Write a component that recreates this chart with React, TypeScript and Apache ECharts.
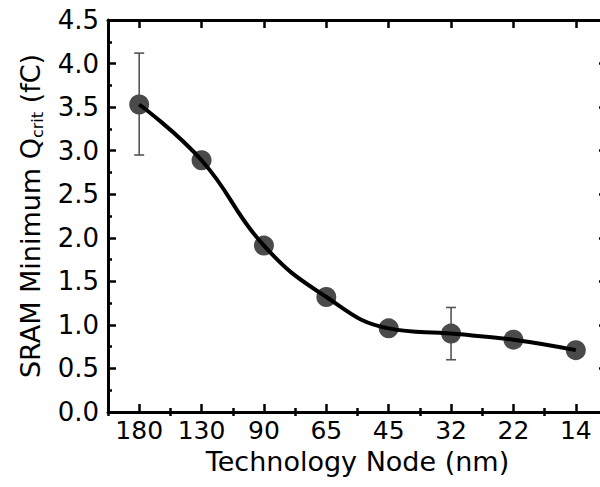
import React, { useEffect, useRef } from "react";
import * as echarts from "echarts";

const categories = ["180", "130", "90", "65", "45", "32", "22", "14"];
const qcrit = [3.53, 2.89, 1.91, 1.32, 0.96, 0.9, 0.83, 0.71];
const errCats = ["180", "32"];
const errLow = [2.95, 0.6];
const errHigh = [4.12, 1.2];
const yTicks = { min: 0, max: 4.5, interval: 0.5 };

const FONT = "DejaVu Sans";

export default function App() {
  const ref = useRef<HTMLDivElement>(null);
  useEffect(() => {
    if (!ref.current) return;
    const chart = echarts.init(ref.current, undefined, { renderer: "svg" });
    const errData = errCats.map((c, i) => [categories.indexOf(c), errLow[i], errHigh[i]]);
    const majorX = (pos: "bottom" | "top", labels: boolean) => ({
      type: "category",
      data: categories,
      position: pos,
      boundaryGap: true,
      axisLine: { show: true, onZero: false, lineStyle: { color: "#000", width: 3 } },
      axisTick: {
        show: true,
        inside: true,
        alignWithLabel: true,
        interval: 0,
        length: 8,
        lineStyle: { color: "#000", width: 2.5 },
      },
      axisLabel: {
        show: labels,
        interval: 0,
        hideOverlap: false,
        color: "#000",
        fontSize: 25,
        fontFamily: FONT,
        margin: 6,
      },
      splitLine: { show: false },
      ...(labels
        ? {
            name: "Technology Node (nm)",
            nameLocation: "middle",
            nameGap: 36,
            nameTextStyle: { color: "#000", fontSize: 27, fontFamily: FONT },
          }
        : {}),
    });
    const minorX = (pos: "bottom" | "top") => ({
      type: "category",
      data: categories,
      position: pos,
      boundaryGap: true,
      axisLine: { show: false },
      axisTick: {
        show: true,
        inside: true,
        alignWithLabel: false,
        interval: 0,
        length: 4,
        lineStyle: { color: "#000", width: 2.5 },
      },
      axisLabel: { show: false, interval: 0 },
      splitLine: { show: false },
    });
    const yAx = (pos: "left" | "right", labels: boolean) => ({
      type: "value",
      position: pos,
      min: yTicks.min,
      max: yTicks.max,
      interval: yTicks.interval,
      axisLine: { show: true, onZero: false, lineStyle: { color: "#000", width: 3 } },
      axisTick: { show: true, inside: true, length: 8, lineStyle: { color: "#000", width: 2.5 } },
      minorTick: { show: true, splitNumber: 2, length: 4, lineStyle: { color: "#000", width: 2.5 } },
      axisLabel: {
        show: labels,
        color: "#000",
        fontSize: 26,
        fontFamily: FONT,
        margin: 9,
        formatter: (v: number) => v.toFixed(1),
      },
      splitLine: { show: false },
      minorSplitLine: { show: false },
      ...(labels
        ? {
            name: "SRAM Minimum Q{sub|crit} (fC)",
            nameLocation: "middle",
            nameRotate: 90,
            nameGap: 63,
            nameTextStyle: {
              color: "#000",
              fontSize: 27,
              fontFamily: FONT,
              rich: {
                sub: { fontSize: 16, fontFamily: FONT, color: "#000", padding: [14, 0, 0, 0] },
              },
            },
          }
        : {}),
    });

    chart.setOption({
      animation: false,
      backgroundColor: "#fff",
      grid: { left: 108, top: 20, width: 499, height: 392, outerBoundsMode: "none", containLabel: false },
      xAxis: [majorX("bottom", true), minorX("bottom"), majorX("top", false), minorX("top")],
      yAxis: [yAx("left", true), yAx("right", false)],
      series: [
        {
          type: "custom",
          xAxisIndex: 0,
          yAxisIndex: 0,
          data: errData,
          z: 1,
          renderItem: (params: any, api: any) => {
            const x = api.value(0);
            const lo = api.coord([x, api.value(1)]);
            const hi = api.coord([x, api.value(2)]);
            const w = 5;
            const style = { stroke: "#555", lineWidth: 1.6 };
            return {
              type: "group",
              children: [
                { type: "line", shape: { x1: lo[0], y1: lo[1], x2: hi[0], y2: hi[1] }, style },
                { type: "line", shape: { x1: lo[0] - w, y1: lo[1], x2: lo[0] + w, y2: lo[1] }, style },
                { type: "line", shape: { x1: hi[0] - w, y1: hi[1], x2: hi[0] + w, y2: hi[1] }, style },
              ],
            };
          },
        },
        {
          type: "scatter",
          xAxisIndex: 0,
          yAxisIndex: 0,
          data: qcrit,
          symbol: "circle",
          symbolSize: 20,
          itemStyle: { color: "#4a4a4a", opacity: 1 },
          z: 2,
        },
        {
          type: "line",
          xAxisIndex: 0,
          yAxisIndex: 0,
          data: qcrit,
          smooth: 0.45,
          showSymbol: false,
          symbol: "none",
          lineStyle: { color: "#000", width: 4 },
          z: 3,
        },
      ],
    });
    return () => chart.dispose();
  }, []);
  return (
    <div
      ref={ref}
      style={{ position: "fixed", left: 0, top: 0, width: 600, height: 487, background: "#fff" }}
    />
  );
}
